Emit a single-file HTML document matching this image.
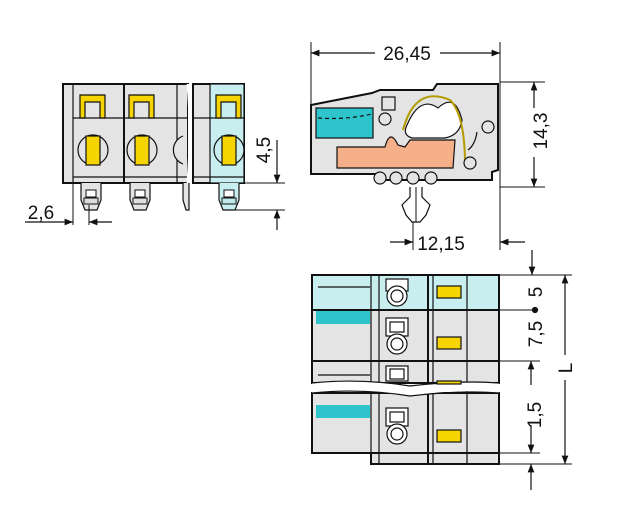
<!DOCTYPE html>
<html><head><meta charset="utf-8"><style>
html,body{margin:0;padding:0;background:#fff}
svg{display:block}
text{font-family:"Liberation Sans",sans-serif;font-size:19px;fill:#111}
</style></head><body>
<svg width="627" height="532" viewBox="0 0 627 532" xmlns="http://www.w3.org/2000/svg">
<defs>
<marker id="a" viewBox="0 0 10 10" refX="10" refY="5" markerWidth="9" markerHeight="7" orient="auto-start-reverse"><path d="M0,1 L10,5 L0,9 z" fill="#111"/></marker>
</defs>
<g stroke="#111" stroke-width="1.2" fill="none">
<!-- ===== LEFT FRONT VIEW ===== -->
<rect x="63" y="84" width="125" height="99" fill="#e4e4e4" stroke-width="2"/>
<rect x="193" y="84" width="51" height="99" fill="#e4e4e4" stroke-width="2"/>
<rect x="210" y="84" width="34" height="99" fill="#c8eef0"/>
<line x1="73" y1="84" x2="73" y2="183"/>
<line x1="124" y1="84" x2="124" y2="183" stroke-width="2"/>
<line x1="177" y1="84" x2="177" y2="183"/>
<line x1="73" y1="118" x2="188" y2="118"/>
<line x1="193" y1="118" x2="244" y2="118"/>
<line x1="73" y1="177" x2="188" y2="177"/>
<line x1="193" y1="177" x2="244" y2="177"/>
<path d="M188,84 Q192,130 188,183" fill="#fff" stroke="#fff" stroke-width="3"/>
<g fill="#f5d400">
<path d="M80,95 h25 v23 h-5 v-16 h-15 v16 h-5 z"/>
<path d="M129,95 h25 v23 h-5 v-16 h-15 v16 h-5 z"/>
<path d="M216,95 h25 v23 h-5 v-16 h-15 v16 h-5 z"/>
</g>
<g fill="#e4e4e4">
<circle cx="93" cy="150" r="15"/><circle cx="142" cy="150" r="15"/><circle cx="229" cy="150" r="15" fill="#c8eef0"/>
<path d="M183,136 A15,15 0 0 0 183,164"/>
</g>
<g fill="#f5d400">
<rect x="86" y="136" width="14" height="29"/><rect x="135" y="136" width="14" height="29"/><rect x="222" y="136" width="14" height="29"/>
</g>
<g fill="#e4e4e4">
<path d="M81,183 v17 l4,10 h12 l4,-10 v-17"/>
<path d="M130,183 v17 l4,10 h12 l4,-10 v-17"/>
<path d="M183,183 v17 l3,10 h3 v-27"/>
<path d="M219,183 v17 l4,10 h12 l4,-10 v-17" fill="#c8eef0"/>
</g>
<g stroke-width="1" fill="#fff">
<path d="M86,190 h10 v7 h-10 z"/><path d="M135,190 h10 v7 h-10 z"/><path d="M224,190 h10 v7 h-10 z"/>
<path d="M84,198 h14 v6 h-14 z" fill="#ddd"/><path d="M133,198 h14 v6 h-14 z" fill="#ddd"/><path d="M222,198 h14 v6 h-14 z" fill="#bfe8ea"/>
</g>
<line x1="244" y1="183" x2="285" y2="183" stroke-width="1"/>
<line x1="230" y1="210" x2="285" y2="210" stroke-width="1"/>
<line x1="277" y1="140" x2="277" y2="183" marker-end="url(#a)"/>
<line x1="277" y1="230" x2="277" y2="210" marker-end="url(#a)"/>
<line x1="73" y1="183" x2="73" y2="225" stroke-width="1"/>
<line x1="89" y1="205" x2="89" y2="225" stroke-width="1"/>
<line x1="25" y1="222" x2="73" y2="222" marker-end="url(#a)"/>
<line x1="112" y1="222" x2="89" y2="222" marker-end="url(#a)"/>

<!-- ===== SIDE VIEW ===== -->
<path d="M311,105 L372,93 L380,90 L433,90 L437,84 L498,84 L498,170 L492,172 L492,180 L380,180 L380,174 L311,174 Z" fill="#e4e4e4" stroke-width="2"/>
<rect x="316" y="108" width="57" height="30" fill="#2ec4cc"/>
<path d="M318,118 Q345,120 372,114" stroke-dasharray="4,3"/>
<path d="M337,147 L385,147 Q390,128 398,145 L405,147 L410,140 L455,140 L453,168 L337,168 Z" fill="#f5b08a"/>
<path d="M407,125 Q420,95 438,108 Q455,92 462,120 Q460,135 445,138 L412,138 Q402,135 407,125 Z" fill="#fff"/>
<path d="M403,130 Q415,85 450,100 Q465,115 465,165" stroke="#b59a00" stroke-width="2"/>
<path d="M468,150 Q475,145 477,132"/>
<rect x="382" y="97" width="13" height="13"/>
<circle cx="385" cy="119" r="6" fill="#e4e4e4"/>
<circle cx="488" cy="127" r="6" fill="#e4e4e4"/>
<circle cx="470" cy="163" r="6" fill="#e4e4e4"/>
<g fill="#e4e4e4"><circle cx="380" cy="178" r="6"/><circle cx="396" cy="178" r="6"/><circle cx="413" cy="178" r="6"/><circle cx="431" cy="178" r="6"/></g>
<path d="M410,187 L410,197 L402,205 L406,215 L412,222 L420,222 L426,215 L430,205 L422,197 L422,187" fill="#fff"/>
<line x1="416" y1="187" x2="416" y2="222" stroke-width="1"/>
<line x1="311" y1="42" x2="311" y2="105" stroke-width="1"/>
<line x1="500" y1="42" x2="500" y2="250" stroke-width="1"/>
<line x1="375" y1="53" x2="311" y2="53" marker-end="url(#a)"/>
<line x1="440" y1="53" x2="500" y2="53" marker-end="url(#a)"/>
<line x1="500" y1="82" x2="545" y2="82" stroke-width="1"/>
<line x1="500" y1="187" x2="545" y2="187" stroke-width="1"/>
<line x1="534" y1="108" x2="534" y2="82" marker-end="url(#a)"/>
<line x1="534" y1="157" x2="534" y2="187" marker-end="url(#a)"/>
<line x1="413" y1="222" x2="413" y2="250" stroke-width="1"/>
<line x1="390" y1="242" x2="413" y2="242" marker-end="url(#a)"/>
<line x1="525" y1="242" x2="500" y2="242" marker-end="url(#a)"/>

<!-- ===== TOP VIEW ===== -->
<rect x="312" y="275" width="187" height="35" fill="#c8eef0" stroke-width="2"/>
<rect x="312" y="310" width="187" height="73" fill="#e4e4e4" stroke-width="2"/>
<rect x="312" y="393" width="187" height="60" fill="#e4e4e4" stroke-width="2"/>
<rect x="371" y="453" width="128" height="11" fill="#e4e4e4" stroke-width="2"/>
<line x1="312" y1="361" x2="499" y2="361" stroke-width="2"/>
<g>
<line x1="371" y1="275" x2="371" y2="464"/><line x1="379" y1="275" x2="379" y2="464"/>
<line x1="428" y1="275" x2="428" y2="464" stroke-width="2"/><line x1="433" y1="275" x2="433" y2="464"/>
<line x1="467" y1="275" x2="467" y2="464"/>
</g>
<path d="M312,383 Q360,378 410,386 Q460,380 499,383 L499,393 Q460,388 410,396 Q360,388 312,393 Z" fill="#fff" stroke="none"/>
<path d="M312,383 Q360,378 410,386 Q460,380 499,383"/>
<path d="M312,393 Q360,388 410,396 Q460,390 499,393"/>
<rect x="316" y="311" width="54" height="13" fill="#2ec4cc" stroke="none"/>
<rect x="316" y="405" width="54" height="13" fill="#2ec4cc" stroke="none"/>
<line x1="318" y1="287" x2="370" y2="287"/>
<line x1="318" y1="375" x2="370" y2="375"/>
<g fill="#fff">
<rect x="386" y="279" width="22" height="12"/><circle cx="397" cy="296" r="10"/><circle cx="397" cy="296" r="6"/>
<rect x="386" y="318" width="22" height="18"/><rect x="390" y="322" width="14" height="10"/><circle cx="397" cy="344" r="10"/><circle cx="397" cy="344" r="6"/>
<rect x="386" y="366" width="22" height="15"/><rect x="390" y="369" width="14" height="10"/>
<rect x="386" y="408" width="22" height="18"/><rect x="390" y="412" width="14" height="10"/><circle cx="397" cy="434" r="10"/><circle cx="397" cy="434" r="6"/>
</g>
<g fill="#f5d400">
<rect x="437" y="286" width="24" height="12"/><rect x="437" y="337" width="24" height="12"/><rect x="437" y="381" width="24" height="3"/><rect x="437" y="430" width="24" height="12"/>
</g>
<line x1="499" y1="275" x2="572" y2="275" stroke-width="1"/>
<line x1="499" y1="310" x2="535" y2="310" stroke-width="1"/>
<circle cx="535" cy="310" r="2.5" fill="#111"/>
<line x1="499" y1="361" x2="540" y2="361" stroke-width="1"/>
<line x1="499" y1="453" x2="540" y2="453" stroke-width="1"/>
<line x1="499" y1="464" x2="572" y2="464" stroke-width="1"/>
<line x1="532" y1="250" x2="532" y2="275" marker-end="url(#a)"/>
<line x1="531" y1="385" x2="531" y2="361" marker-end="url(#a)"/>
<line x1="531" y1="425" x2="531" y2="453" marker-end="url(#a)"/>
<line x1="531" y1="490" x2="531" y2="464" marker-end="url(#a)"/>
<line x1="565" y1="355" x2="565" y2="275" marker-end="url(#a)"/>
<line x1="565" y1="380" x2="565" y2="464" marker-end="url(#a)"/>
</g>
<text x="407" y="60" text-anchor="middle" font-size="20">26,45</text>
<text x="441" y="250" text-anchor="middle" font-size="19">12,15</text>
<text x="41" y="219" text-anchor="middle" font-size="19">2,6</text>
<text transform="translate(270,150) rotate(-90)" text-anchor="middle">4,5</text>
<text transform="translate(547,131) rotate(-90)" text-anchor="middle" font-size="20">14,3</text>
<text transform="translate(542,292) rotate(-90)" text-anchor="middle">5</text>
<text transform="translate(542,334) rotate(-90)" text-anchor="middle">7,5</text>
<text transform="translate(541,415) rotate(-90)" text-anchor="middle">1,5</text>
<text transform="translate(572,368) rotate(-90)" text-anchor="middle">L</text>
</svg>
</body></html>
